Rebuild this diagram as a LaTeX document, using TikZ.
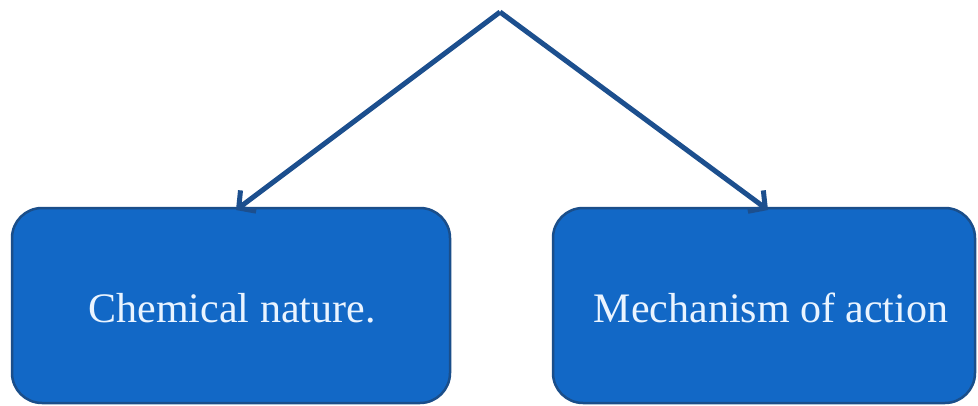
\documentclass[tikz,border=0pt]{standalone}
\usepackage{fontspec}
\setmainfont{Liberation Serif}
\usetikzlibrary{arrows.meta}
\definecolor{boxfill}{HTML}{1268C6}
\definecolor{boxedge}{HTML}{1A4E8A}
\definecolor{arrowcol}{HTML}{1C4F8E}
\definecolor{txtcol}{HTML}{EAF4FF}
\tikzset{
  x=1pt,y=-1pt,
  catbox/.style={draw=boxedge,line width=2.5pt,fill=boxfill,rounded corners=30pt},
  boxtext/.style={text=txtcol,font=\fontsize{42}{48}\selectfont,anchor=base,inner sep=0pt},
  linkarrow/.style={draw=arrowcol,line width=5pt,-{Straight Barb[length=12pt,width=26pt]}}
}
\begin{document}
\begin{tikzpicture}
\useasboundingbox (0,0) rectangle (978,405);
\fill[white] (0,0) rectangle (978,405);
\draw[catbox] (12,208) rectangle (450,403);
\draw[catbox] (553,208) rectangle (975,403);
\node[boxtext] (chem) at (232,322) {Chemical nature.};
\node[boxtext] (mech) at (771,322) {Mechanism of action};
\coordinate (apex) at (500,12);
\coordinate (lt) at (236,210);
\coordinate (rt) at (768,210);
\draw[linkarrow] (apex) -- (lt);
\draw[linkarrow] (apex) -- (rt);
\end{tikzpicture}
\end{document}
